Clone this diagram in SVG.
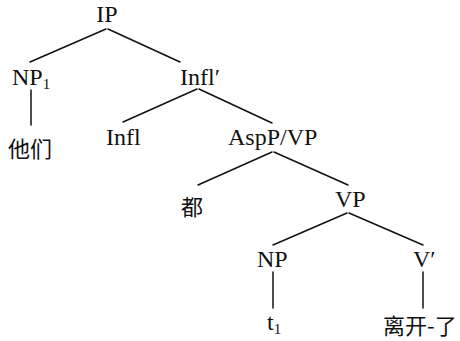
<svg xmlns="http://www.w3.org/2000/svg" width="460" height="341" viewBox="0 0 460 341">
  <style>
    text { fill: #111; }
    .lat { font-family: 'Liberation Serif', 'Times New Roman', Times, serif; font-size: 24px; }
    .sub { font-size: 15px; }
    .cjk { font-family: 'Noto Sans CJK SC', 'Noto Sans', sans-serif; font-size: 22px; }
    .edge { stroke: #111; stroke-width: 1.5; fill: none; stroke-linecap: round; }
  </style>
  <rect width="460" height="341" fill="#fff"/>
  <g id="connectors">
    <line class="edge" x1="106" y1="29" x2="30" y2="62"/>
    <line class="edge" x1="108" y1="29" x2="180" y2="62"/>
    <line class="edge" x1="31" y1="90" x2="31" y2="125"/>
    <line class="edge" x1="197" y1="89" x2="123" y2="122"/>
    <line class="edge" x1="199" y1="89" x2="272" y2="123"/>
    <line class="edge" x1="272" y1="152" x2="198" y2="185"/>
    <line class="edge" x1="274" y1="152" x2="348" y2="185"/>
    <line class="edge" x1="347" y1="213" x2="273" y2="245"/>
    <line class="edge" x1="349" y1="213" x2="423" y2="245"/>
    <line class="edge" x1="273" y1="272" x2="273" y2="308"/>
    <line class="edge" x1="423" y1="272" x2="423" y2="308"/>
  </g>
  <g id="node-IP"><text class="lat" font-family="Liberation Serif, serif" x="107" y="22" text-anchor="middle">IP</text></g>
  <g id="node-NP1"><text class="lat" font-family="Liberation Serif, serif" x="12" y="85">NP<tspan class="sub" dy="4">1</tspan></text></g>
  <g id="node-InflBar"><text class="lat" font-family="Liberation Serif, serif" x="180" y="85">Infl′</text></g>
  <g id="node-tamen"><text class="cjk" x="30" y="157" text-anchor="middle">他们</text></g>
  <g id="node-Infl"><text class="lat" font-family="Liberation Serif, serif" x="106" y="145">Infl</text></g>
  <g id="node-AspP"><text class="lat" font-family="Liberation Serif, serif" x="228" y="145">AspP/VP</text></g>
  <g id="node-dou"><text class="cjk" x="192" y="215" text-anchor="middle">都</text></g>
  <g id="node-VP"><text class="lat" font-family="Liberation Serif, serif" x="335" y="207">VP</text></g>
  <g id="node-NP"><text class="lat" font-family="Liberation Serif, serif" x="257" y="267">NP</text></g>
  <g id="node-VBar"><text class="lat" font-family="Liberation Serif, serif" x="413" y="267">V′</text></g>
  <g id="node-t1"><text class="lat" font-family="Liberation Serif, serif" x="267" y="330">t<tspan class="sub" dy="4">1</tspan></text></g>
  <g id="node-likai"><text class="cjk" x="383" y="334">离开-了</text></g>
</svg>
